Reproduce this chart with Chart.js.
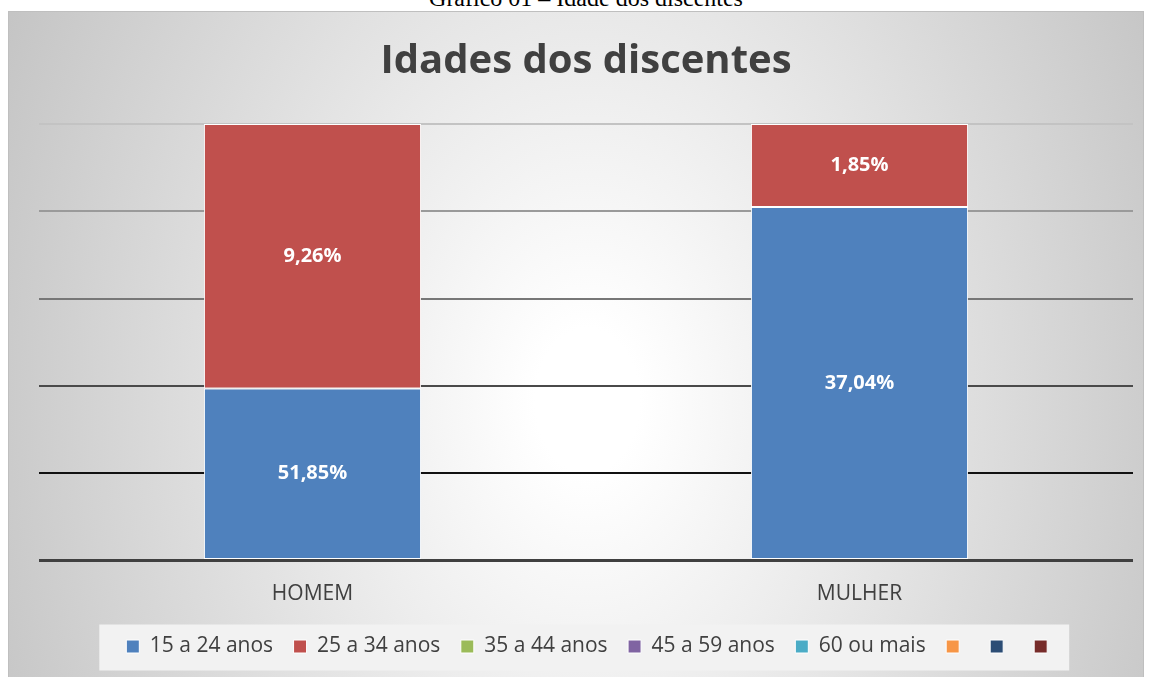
<!DOCTYPE html>
<html lang="pt">
<head>
<meta charset="utf-8">
<title>Idades dos discentes</title>
<script src="https://cdn.jsdelivr.net/npm/chart.js@4"></script>
<style>
  html, body { margin: 0; padding: 0; background: #fff; overflow: hidden; }
  body { width: 1151px; height: 677px; position: relative; }
  .caption {
    position: absolute; left: 0; top: -14px; width: 1172px;
    text-align: center; font: 24px/24px "Liberation Serif", "Times New Roman", serif; color: #000;
  }
  .frame {
    position: absolute; left: 8px; top: 11px; width: 1134px; height: 670px;
    border: 1px solid #bfbfbf;
    background: radial-gradient(ellipse 650px 900px at 51% 58%, #ffffff 0%, #ffffff 8%, #c4c4c4 100%);
  }
  canvas { display: block; }
</style>
</head>
<body>
<div class="caption">Gráfico 01 – Idade dos discentes</div>
<div class="frame">
  <canvas id="ageChart" width="1134" height="665"></canvas>
</div>
<script>
const categories = ["HOMEM", "MULHER"];
const seriesNames = ["15 a 24 anos", "25 a 34 anos", "35 a 44 anos", "45 a 59 anos", "60 ou mais", "", "", ""];
const seriesColors = ["#4F81BD", "#C0504D", "#9BBB59", "#8064A2", "#4BACC6", "#F79646", "#2C4D75", "#772C2A"];

// bar heights as drawn (share of each column)
const height15to24 = [39.4, 81.0];
const height25to34 = [60.6, 19.0];
// percentages printed on the bars
const label15to24 = [51.85, 37.04];
const label25to34 = [9.26, 1.85];

const yTicks = [0, 20, 40, 60, 80, 100];
const gridColors = ["#404040", "#111111", "#4a4a4a", "#777777", "#9a9a9a", "#c3c3c3"];

const heights = [height15to24, height25to34];
const printed = [label15to24, label25to34];

Chart.defaults.font.family = "'Open Sans', 'Noto Sans', sans-serif";

const fmtPct = v => v.toFixed(2).replace(".", ",") + "%";

// white label in the middle of each segment
const segmentLabels = {
  id: "segmentLabels",
  afterDatasetsDraw(chart) {
    const ctx = chart.ctx;
    ctx.save();
    ctx.font = "bold 20px 'Open Sans', sans-serif";
    ctx.fillStyle = "#ffffff";
    ctx.textAlign = "center";
    ctx.textBaseline = "middle";
    printed.forEach((vals, di) => {
      chart.getDatasetMeta(di).data.forEach((bar, i) => {
        if (vals[i] == null) return;
        ctx.fillText(fmtPct(vals[i]), bar.x, (bar.y + bar.base) / 2);
      });
    });
    ctx.restore();
  }
};

// nudge the legend a little right and put a light box behind it
const legendBox = {
  id: "legendBox",
  afterLayout(chart) {
    if (!chart.legend) return;
    chart.legend.left += 6;
    chart.legend.right += 6;
  },
  beforeDraw(chart) {
    const hits = chart.legend && chart.legend.legendHitBoxes;
    if (!hits || !hits.length) return;
    const first = hits[0], last = hits[hits.length - 1];
    const cy = first.top + first.height / 2;
    const ctx = chart.ctx;
    ctx.save();
    ctx.fillStyle = "#f2f2f2";
    ctx.fillRect(first.left - 27, cy - 22, last.left + 35 - (first.left - 27), 46);
    ctx.restore();
  }
};

new Chart(document.getElementById("ageChart").getContext("2d"), {
  type: "bar",
  data: {
    labels: categories,
    datasets: seriesNames.map((name, i) => ({
      label: name,
      data: heights[i] || categories.map(() => null),
      backgroundColor: seriesColors[i],
      borderColor: "#ffffff",
      borderWidth: 1,
      borderSkipped: false,
      barPercentage: 0.397,
      categoryPercentage: 1
    }))
  },
  options: {
    responsive: false,
    animation: false,
    layout: { padding: { left: 30, right: 10, top: 0, bottom: 10 } },
    plugins: {
      title: {
        display: true,
        text: "Idades dos discentes",
        color: "#404040",
        font: { size: 40, weight: "bold" },
        padding: { top: 26, bottom: 38 }
      },
      legend: {
        position: "bottom",
        labels: {
          color: "#404040",
          font: { size: 21 },
          boxWidth: 13,
          boxHeight: 13,
          padding: 20.5
        }
      },
      tooltip: { enabled: false }
    },
    scales: {
      x: {
        stacked: true,
        grid: { display: false },
        border: { display: false },
        ticks: { color: "#404040", font: { size: 21 }, padding: 13 },
        afterFit: scale => { scale.height = 55; }
      },
      y: {
        stacked: true,
        min: yTicks[0],
        max: yTicks[yTicks.length - 1],
        afterBuildTicks: scale => { scale.ticks = yTicks.map(v => ({ value: v })); },
        ticks: { display: false },
        border: { display: false },
        grid: {
          drawTicks: false,
          color: c => gridColors[yTicks.indexOf(c.tick.value)] || "#999999",
          lineWidth: c => (c.tick.value === 0 ? 3 : 2)
        }
      }
    }
  },
  plugins: [legendBox, segmentLabels]
});
</script>
</body>
</html>
